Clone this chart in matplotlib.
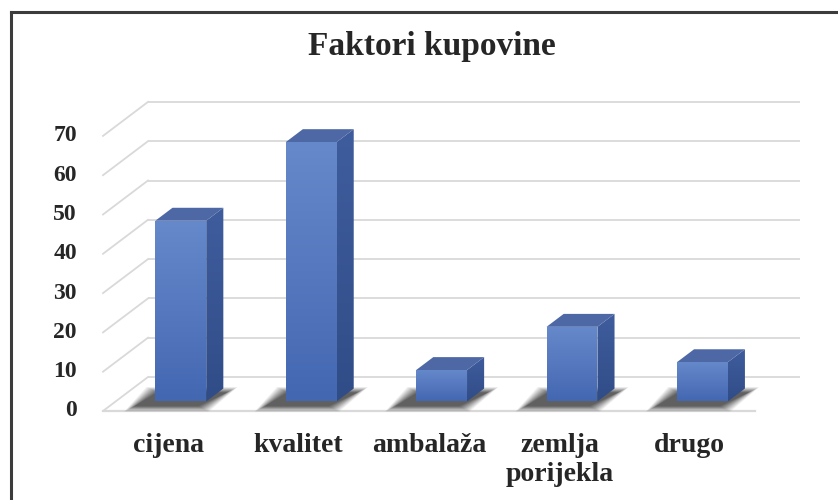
import numpy as np
import matplotlib
matplotlib.use("Agg")
import matplotlib.pyplot as plt
from matplotlib.patches import Polygon
from matplotlib.colors import LinearSegmentedColormap
from matplotlib.lines import Line2D

# ---- data ----
title = "Faktori kupovine"
categories = ["cijena", "kvalitet", "ambalaža", "zemlja\nporijekla", "drugo"]
values = [46, 66, 8, 19, 10]
yticks = [0, 10, 20, 30, 40, 50, 60, 70]

# ---- layout constants (pixels) ----
W, H = 838, 500
SX = 130.4     # px per category
SY = 3.93      # px per value unit
X0, Y0 = 103, 411  # front-left floor corner in pixels
DX = 45 / SX   # depth offset (category units)
DV = 34 / SY   # depth offset (value units)
F0, F1 = 0.28, 0.66  # bar depth span (fraction of depth)
BW = 0.39

FONT = "Liberation Serif"
TXT = "#262626"

fig = plt.figure(figsize=(W / 100, H / 100), dpi=100)
ax = fig.add_axes([0, 0, 1, 1])
ax.set_axis_off()
xlim = (-X0 / SX, (W - X0) / SX)
ylim = ((Y0 - H) / SY, Y0 / SY)

n = len(categories)
grid_c = "#d9d9d9"

# gridlines on back wall + side diagonals
for v in yticks:
    ax.plot([DX, n + DX], [v + DV, v + DV], color=grid_c, lw=1.3, zorder=1,
            solid_capstyle="butt")
    ax.plot([0, DX], [v, v + DV], color=grid_c, lw=1.3, zorder=1)
# front floor edge
ax.plot([0, n], [0, 0], color=grid_c, lw=1.6, zorder=1)

front_cmap = LinearSegmentedColormap.from_list("f", ["#4467b2", "#6689cb"])
side_cmap = LinearSegmentedColormap.from_list("s", ["#314d88", "#3f5c9d"])
top_color = "#4e68a6"

for i, val in enumerate(values):
    xl = i + 0.5 - BW / 2
    xr = xl + BW
    fx, fv = F0 * DX, F0 * DV
    bx, bv = F1 * DX, F1 * DV
    # shadow (blurred by layering)
    for k in np.linspace(1.0, 0.0, 12):
        g = k * 0.08
        gv = k * 1.4
        shp = [
            (xl + fx - 0.16 - g, fv - 1.2 - gv),
            (xr + fx - 0.06 + g, fv - 1.2 - gv),
            (xr + bx + 0.03 + g, bv - 1.0 + gv),
            (xl + bx - 0.12 - g, bv - 1.0 + gv),
        ]
        ax.add_patch(Polygon(shp, closed=True, facecolor="black", edgecolor="none",
                             alpha=0.05 + 0.05 * (1 - k), zorder=2))
    # side face
    side = Polygon([(xr + fx, fv), (xr + bx, bv), (xr + bx, bv + val), (xr + fx, fv + val)],
                   closed=True, facecolor="none", edgecolor="none", zorder=3)
    ax.add_patch(side)
    im = ax.imshow(np.linspace(0, 1, 100)[:, None], cmap=side_cmap, origin="lower",
                   extent=[xr + fx, xr + bx, fv, bv + val], aspect="auto", zorder=3)
    im.set_clip_path(side)
    # top face
    ax.add_patch(Polygon([(xl + fx, fv + val), (xr + fx, fv + val),
                          (xr + bx, bv + val), (xl + bx, bv + val)],
                         closed=True, facecolor=top_color, edgecolor="none", zorder=4))
    # front face
    front = Polygon([(xl + fx, fv), (xr + fx, fv), (xr + fx, fv + val), (xl + fx, fv + val)],
                    closed=True, facecolor="none", edgecolor="none", zorder=5)
    ax.add_patch(front)
    im2 = ax.imshow(np.linspace(0, 1, 100)[:, None], cmap=front_cmap, origin="lower",
                    extent=[xl + fx, xr + fx, fv, fv + val], aspect="auto", zorder=5)
    im2.set_clip_path(front)

# y tick labels
for v in yticks:
    ax.text((77 - X0) / SX, v, str(v), ha="right", va="center", fontsize=17,
            fontweight="bold", family=FONT, color=TXT)

# category labels
for i, c in enumerate(categories):
    ax.text(i + 0.5, (Y0 - 433) / SY, c, ha="center", va="top", fontsize=20,
            fontweight="bold", family=FONT, color=TXT, linespacing=1.2)

ax.set_xlim(*xlim)
ax.set_ylim(*ylim)

fig.text(432 / W, 1 - 47 / H, title, ha="center", va="center", fontsize=24,
         fontweight="bold", family=FONT, color=TXT)

# outer frame (left & top)
fig.add_artist(Line2D([11 / W, 11 / W], [0, 1 - 12 / H], transform=fig.transFigure,
                      color="#3c3c3c", lw=2.2))
fig.add_artist(Line2D([11 / W, 1], [1 - 12 / H, 1 - 12 / H], transform=fig.transFigure,
                      color="#3c3c3c", lw=2.2))

fig.savefig("out.png", dpi=100, facecolor="white")
